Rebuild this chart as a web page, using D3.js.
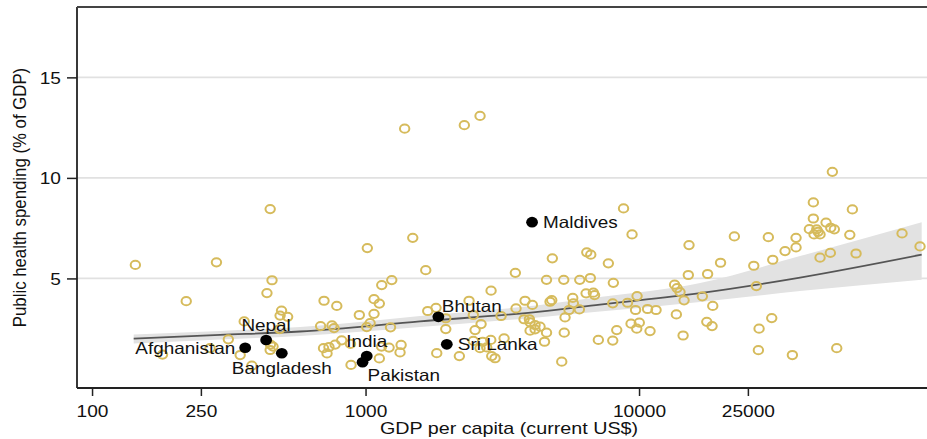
<!DOCTYPE html>
<html>
<head>
<meta charset="utf-8">
<script src="https://cdn.jsdelivr.net/npm/d3@7"></script>
<style>
  html, body { margin: 0; padding: 0; background: #fff; }
  svg { display: block; }
  text { font-family: "Liberation Sans", Arial, Helvetica, sans-serif; fill: #111; }
</style>
</head>
<body>
<svg id="chart" width="927" height="439"></svg>
<script>
// GDP per capita (current US$) and public health spending (% of GDP), all countries
const gdpPerCapita = [
  144, 221, 285, 181, 270, 315, 360, 348, 384, 448, 455, 436, 493, 487, 519, 485, 449, 448, 459,
  685, 705, 785, 754, 767, 702, 735, 723, 774, 818, 881, 885, 949, 1015, 1074, 1123, 1074, 1146,
  1247, 1488, 1039, 1010, 1234, 1144, 1219, 1349, 1337, 1123, 1660, 1688, 1810, 1965, 1965, 2478,
  2390, 2877, 2645, 2515, 3130, 3530, 3550, 3830, 4073, 3798, 3972, 3996, 4167, 4345, 4167, 3996,
  4727, 4795, 4819, 4589, 5305, 6070, 6636, 6440, 6660, 6402, 6806, 6876, 5722, 5751, 5546, 6050,
  5363, 4589, 4512, 5327, 5216, 7099, 1821, 2203, 2478, 2683, 2870, 3210, 2622, 2774, 2893, 2975,
  1390, 2297, 2622, 8776, 9428, 15230, 7723, 8054, 8014, 9078, 9834, 9711, 10740, 11540, 9349,
  10020, 9808, 10970, 8288, 8014, 15140, 17810, 13490, 13770, 14120, 14610, 17040, 18600, 13690,
  17690, 18490, 14490, 19860, 22310, 29700, 26270, 26850, 30820, 34190, 37500, 37500, 43380,
  43380, 41950, 44630, 45890, 43640, 45130, 48280, 50220, 51770, 50910, 60260, 58960, 45890,
  50050, 62150, 91540, 106500, 30560, 27470, 27310, 36360, 52820
];
const healthSpending = [
  5.67, 3.87, 5.80, 1.21, 1.53, 1.97, 2.86, 1.19, 0.66, 8.45, 4.91, 4.27, 3.40, 3.15, 3.09, 2.48, 1.71, 1.44, 1.61,
  2.63, 3.89, 3.63, 2.66, 2.53, 1.53, 1.59, 1.27, 1.71, 1.92, 1.74, 0.70, 3.18, 6.51, 3.97, 3.75, 3.24, 4.67,
  4.92, 7.02, 2.78, 2.58, 2.57, 1.61, 1.56, 1.69, 1.32, 1.02, 5.41, 3.38, 3.54, 3.02, 2.48, 3.18,
  3.89, 4.39, 2.73, 2.43, 3.13, 5.28, 3.51, 3.89, 3.68, 2.97, 2.97, 2.82, 2.68, 2.60, 2.47, 2.40,
  3.84, 3.92, 6.00, 4.93, 4.93, 4.93, 5.02, 6.30, 6.18, 4.26, 4.29, 4.17, 4.03, 3.76, 3.43, 3.46,
  3.06, 2.30, 1.85, 2.30, 0.86, 1.94, 1.28, 1.14, 1.89, 1.85, 1.94, 2.02, 1.53, 1.57, 1.14, 1.03,
  12.45, 12.62, 13.08, 8.48, 7.19, 6.66, 5.75, 4.78, 3.76, 3.79, 4.12, 3.43, 3.48, 3.43, 2.75,
  2.80, 2.50, 2.38, 2.43, 1.91, 5.17, 5.22, 4.69, 4.52, 4.32, 3.91, 4.11, 3.63, 3.21,
  2.84, 2.63, 2.16, 5.78, 7.09, 7.05, 5.63, 4.62, 5.93, 6.36, 7.02, 6.54, 8.78,
  7.98, 7.45, 7.44, 7.19, 7.19, 7.32, 7.78, 7.52, 7.44, 10.30, 8.43, 7.17, 6.03,
  6.27, 6.24, 7.24, 6.59, 3.03, 2.50, 1.43, 1.19, 1.53
];

// South Asian countries, drawn as filled markers with name labels
const southAsiaNames = ["Afghanistan", "Nepal", "Bangladesh", "India", "Pakistan", "Bhutan", "Sri Lanka", "Maldives"];
const southAsiaGdp = [363, 433, 494, 1010, 975, 1846, 1982, 4063];
const southAsiaSpending = [1.55, 1.94, 1.28, 1.14, 0.83, 3.09, 1.72, 7.80];

// Fitted trend and its confidence band
const fitGdp = [142, 294, 576, 1582, 4345, 7194, 16710, 38790, 108000];
const fitMean = [2.01, 2.19, 2.36, 2.86, 3.35, 3.70, 4.27, 5.04, 6.18];
const fitLower = [1.76, 1.96, 2.14, 2.58, 3.07, 3.35, 3.83, 4.37, 4.94];
const fitUpper = [2.21, 2.39, 2.58, 3.13, 3.68, 4.07, 4.77, 6.11, 7.80];

// Axis ticks
const xTickValues = [100, 250, 1000, 10000, 25000];
const yTickValues = [5, 10, 15];

const xTitle = "GDP per capita (current US$)";
const yTitle = "Public health spending (% of GDP)";

// ---- layout ----
const SX = 1.16;               // horizontal text stretch
const plot = { left: 77, right: 940, top: 7, bottom: 388 };

const svg = d3.select("#chart");
svg.append("rect").attr("width", 927).attr("height", 439).attr("fill", "#fff");

const x = d3.scaleLog().domain([88.1, 126000]).range([plot.left, plot.right]);
const y = d3.scaleLinear().domain([-0.45, 18.5]).range([plot.bottom, plot.top]);

// gridlines
svg.append("g").selectAll("line").data(yTickValues).join("line")
  .attr("x1", plot.left).attr("x2", plot.right)
  .attr("y1", d => y(d)).attr("y2", d => y(d))
  .attr("stroke", "#e1e1e1").attr("stroke-width", 1.8);

// confidence band and fitted line
const fitData = fitGdp.map((g, i) => ({ g, m: fitMean[i], lo: fitLower[i], hi: fitUpper[i] }));
svg.append("path").datum(fitData)
  .attr("d", d3.area().curve(d3.curveMonotoneX).x(d => x(d.g)).y0(d => y(d.lo)).y1(d => y(d.hi)))
  .attr("fill", "#e2e2e2");
svg.append("path").datum(fitData)
  .attr("d", d3.line().curve(d3.curveMonotoneX).x(d => x(d.g)).y(d => y(d.m)))
  .attr("fill", "none").attr("stroke", "#555").attr("stroke-width", 1.8);

// all countries: hollow gold markers
svg.append("g").selectAll("ellipse").data(gdpPerCapita.map((g, i) => [g, healthSpending[i]])).join("ellipse")
  .attr("cx", d => x(d[0])).attr("cy", d => y(d[1]))
  .attr("rx", 4.7).attr("ry", 4.1)
  .attr("fill", "none").attr("stroke", "#d6bb5c").attr("stroke-width", 2);

// South Asia: filled black markers
const sa = southAsiaNames.map((n, i) => ({ name: n, g: southAsiaGdp[i], v: southAsiaSpending[i] }));
svg.append("g").selectAll("ellipse").data(sa).join("ellipse")
  .attr("cx", d => x(d.g)).attr("cy", d => y(d.v))
  .attr("rx", 5.9).attr("ry", 5.3).attr("fill", "#000");

// label placement by clock position
const clock = {
  "Afghanistan": 9, "Nepal": 12, "Bangladesh": 6, "India": 12,
  "Pakistan": 5, "Bhutan": 2, "Sri Lanka": 3, "Maldives": 3
};
const clockOffset = {
  9:  { dx: -10, dy: 6, anchor: "end" },
  12: { dx: 0, dy: -9, anchor: "middle" },
  6:  { dx: 0, dy: 20.5, anchor: "middle" },
  5:  { dx: 5, dy: 18.5, anchor: "start" },
  2:  { dx: 3.5, dy: -4.5, anchor: "start" },
  3:  { dx: 11, dy: 6, anchor: "start" }
};
svg.append("g").selectAll("text").data(sa).join("text")
  .attr("transform", d => {
    const o = clockOffset[clock[d.name]];
    return `translate(${x(d.g) + o.dx},${y(d.v) + o.dy}) scale(${SX},1)`;
  })
  .attr("text-anchor", d => clockOffset[clock[d.name]].anchor)
  .style("font-size", "16.3px")
  .text(d => d.name);

// x axis
const xAxis = svg.append("g").attr("transform", `translate(0,${plot.bottom})`)
  .call(d3.axisBottom(x).tickValues(xTickValues).tickFormat(d3.format("d")).tickSize(8));
xAxis.select(".domain").remove();
xAxis.selectAll(".tick line").attr("stroke", "#222").attr("stroke-width", 1.5);
xAxis.selectAll(".tick text")
  .attr("y", 29.3).attr("dy", null)
  .attr("transform", `scale(${SX},1)`)
  .style("font-size", "16.5px").attr("fill", "#111");

// y axis
const yAxis = svg.append("g").attr("transform", `translate(${plot.left},0)`)
  .call(d3.axisLeft(y).tickValues(yTickValues).tickFormat(d3.format("d")).tickSize(10));
yAxis.select(".domain").remove();
yAxis.selectAll(".tick line").attr("stroke", "#222").attr("stroke-width", 1.5);
yAxis.selectAll(".tick text")
  .attr("x", -16 / SX).attr("dy", "0.35em")
  .attr("transform", `scale(${SX},1)`)
  .style("font-size", "16.5px").attr("fill", "#111");

// frame lines
const frame = svg.append("g").attr("stroke", "#222").attr("stroke-width", 1.8);
frame.append("line").attr("x1", plot.left).attr("x2", plot.left).attr("y1", plot.top).attr("y2", plot.bottom);
frame.append("line").attr("x1", plot.left).attr("x2", plot.right).attr("y1", plot.bottom).attr("y2", plot.bottom);
frame.append("line").attr("x1", plot.left).attr("x2", plot.right).attr("y1", plot.top).attr("y2", plot.top)
  .attr("stroke", "#444");

// axis titles
svg.append("text")
  .attr("transform", `translate(509,434) scale(${SX},1)`)
  .attr("text-anchor", "middle").style("font-size", "17px")
  .text(xTitle);
svg.append("text")
  .attr("transform", `translate(26,197.5) scale(1.08,1) rotate(-90)`)
  .attr("text-anchor", "middle").style("font-size", "16.8px")
  .text(yTitle);
</script>
</body>
</html>
